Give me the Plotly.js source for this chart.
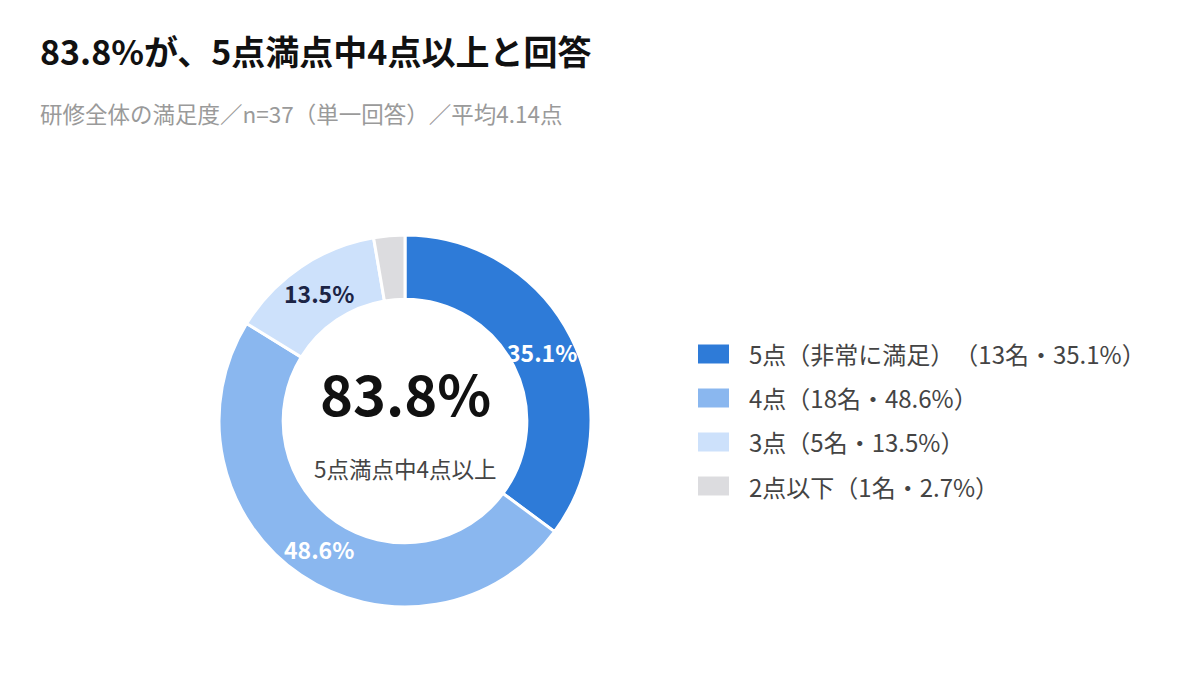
<!DOCTYPE html>
<html><head><meta charset="utf-8">
<script src="https://cdn.plot.ly/plotly-3.0.1.min.js"></script>
<style>html,body{margin:0;padding:0;background:#fff;text-spacing-trim:space-all;}#chart{width:1200px;height:694px;}svg text{text-spacing-trim:space-all;}</style>
</head><body><div id="chart"></div>
<script>
const categories = ['5点（非常に満足）', '4点', '3点', '2点以下'];
const counts = [13, 18, 5, 1];
const percents = [35.1, 48.6, 13.5, 2.7];
const sliceLabels = ['35.1%', '48.6%', '13.5%', ''];
const legendLabels = ['5点（非常に満足）（13名・35.1%）', '4点（18名・48.6%）', '3点（5名・13.5%）', '2点以下（1名・2.7%）'];
const colors = ['#2e7bd8', '#8ab7ef', '#cde1fb', '#dcdcdf'];
const labelColors = ['#ffffff', '#ffffff', '#1b2445', '#ffffff'];

const FONT = '"Noto Sans CJK JP", "Noto Sans", sans-serif';
const W = 1200, H = 694;
const CX = 405, CY = 421, R_OUT = 186, HOLE = 0.655;

const trace = {
  type: 'pie',
  labels: categories,
  values: counts,
  textinfo: 'none',
  hole: HOLE,
  sort: false,
  direction: 'clockwise',
  rotation: 0,
  marker: {colors: colors, line: {color: '#ffffff', width: 3}},
  domain: {x: [(CX - R_OUT)/W, (CX + R_OUT)/W], y: [1 - (CY + R_OUT)/H, 1 - (CY - R_OUT)/H]},
  showlegend: false,
  hoverinfo: 'none'
};

const annotations = [
  {text: '83.8%が、5点満点中4点以上と回答', xref: 'paper', yref: 'paper', x: 38/W, y: 1 - 51/H,
   xanchor: 'left', yanchor: 'middle', showarrow: false,
   font: {family: FONT, size: 34, color: '#111111', weight: 'bold'}},
  {text: '研修全体の満足度／n=37（単一回答）／平均4.14点', xref: 'paper', yref: 'paper', x: 38/W, y: 1 - 113/H,
   xanchor: 'left', yanchor: 'middle', showarrow: false,
   font: {family: FONT, size: 22.5, color: '#9a9a9a'}},
  {text: '83.8%', xref: 'paper', yref: 'paper', x: CX/W, y: 1 - 391/H,
   xanchor: 'center', yanchor: 'middle', showarrow: false,
   font: {family: FONT, size: 56, color: '#111111', weight: 'bold'}},
  {text: '5点満点中4点以上', xref: 'paper', yref: 'paper', x: CX/W, y: 1 - 468/H,
   xanchor: 'center', yanchor: 'middle', showarrow: false,
   font: {family: FONT, size: 22.5, color: '#444444'}}
];

// slice labels at the mid-angle of each slice, mid-ring radius
const total = counts.reduce((a, b) => a + b, 0);
const rMid = R_OUT * (1 + HOLE) / 2;
let cum = 0;
counts.forEach((v, i) => {
  const theta = (cum + v / 2) / total * 2 * Math.PI;
  cum += v;
  if (!sliceLabels[i]) return;
  annotations.push({text: sliceLabels[i], xref: 'paper', yref: 'paper',
    x: (CX + rMid * Math.sin(theta)) / W, y: 1 - (CY - rMid * Math.cos(theta)) / H,
    xanchor: 'center', yanchor: 'middle', showarrow: false,
    font: {family: FONT, size: 23, color: labelColors[i], weight: 'bold'}});
});

const shapes = [];
legendLabels.forEach((lab, i) => {
  const yc = 354 + i * 44;
  shapes.push({type: 'rect', xref: 'paper', yref: 'paper',
    x0: 698/W, x1: 729/W, y0: 1 - (yc - 9.5)/H, y1: 1 - (yc + 9.5)/H,
    fillcolor: colors[i], line: {width: 0}});
  annotations.push({text: lab, xref: 'paper', yref: 'paper', x: 747/W, y: 1 - yc/H,
    xanchor: 'left', yanchor: 'middle', showarrow: false,
    font: {family: FONT, size: 24, color: '#444444'}});
});

const layout = {
  width: W, height: H,
  margin: {l: 0, r: 0, t: 0, b: 0},
  paper_bgcolor: '#ffffff', plot_bgcolor: '#ffffff',
  annotations: annotations, shapes: shapes,
  showlegend: false
};
Plotly.newPlot('chart', [trace], layout, {displayModeBar: false, staticPlot: true});
</script></body></html>
